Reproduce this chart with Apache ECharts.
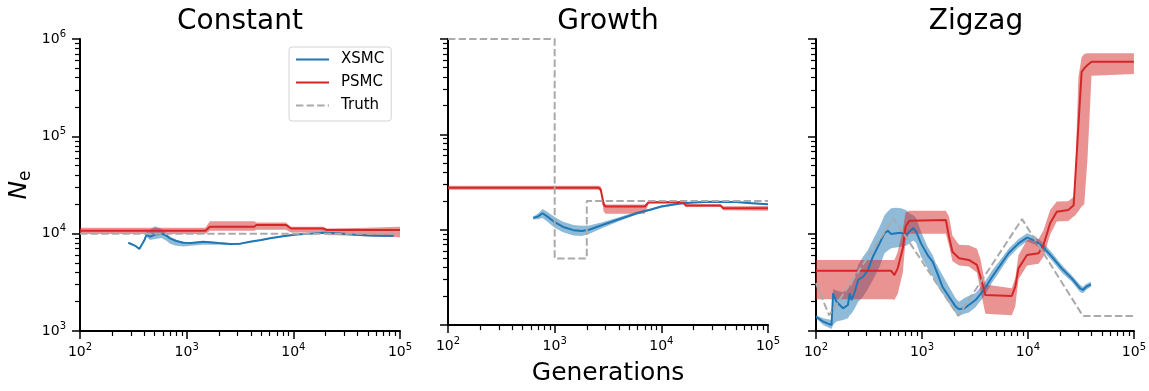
<!DOCTYPE html>
<html>
<head>
<meta charset="utf-8">
<script src="https://cdn.jsdelivr.net/npm/echarts@6/dist/echarts.min.js"></script>
<style>
  html, body { margin: 0; padding: 0; background: #fff; }
  #chart { width: 1149px; height: 391px; }
</style>
</head>
<body>
<div id="chart"></div>
<script>
// ---- Panel titles and axis ticks ----
const panelTitles = ['Constant', 'Growth', 'Zigzag'];
const xMajorTicks = [100, 1000, 10000, 100000];
const yMajorTicks = [1000, 10000, 100000, 1000000];

// ---- Constant scenario ----
const constTruthX = [100, 100000];
const constTruthN = [10000, 10000];

const constPsmcX  = [100, 1500, 1650, 4300, 4500, 8500, 9500, 19000, 20500, 50000, 100000];
const constPsmcN  = [10700, 10700, 11800, 11800, 12300, 12300, 11300, 11300, 10900, 10900, 10900];
const constPsmcLo = [9900, 9900, 10700, 10700, 11000, 11000, 10300, 10300, 9700, 9400, 9200];
const constPsmcHi = [11500, 11500, 13400, 13400, 13000, 13000, 11800, 11800, 11300, 11500, 11800];

const constXsmcX  = [284, 330, 360, 400, 421, 453, 505, 583, 650, 698, 800, 931, 1100, 1430, 2000, 2550, 3200, 3920, 5000, 6040, 8000, 10700, 14000, 19000, 26000, 36500, 50000, 70000, 87000];
const constXsmcN  = [8070, 7500, 6960, 8500, 9780, 9300, 9780, 10000, 9500, 8950, 8400, 8070, 8000, 8260, 8000, 7830, 7900, 8260, 8600, 8950, 9400, 9780, 10000, 10200, 10100, 9780, 9600, 9500, 9500];
const constXsmcLo = [8000, 7400, 6900, 8300, 9300, 8600, 8800, 9000, 8400, 7900, 7500, 7400, 7500, 7700, 7700, 7650, 7750, 8100, 8450, 8800, 9250, 9650, 9900, 10050, 9950, 9650, 9450, 9300, 9250];
const constXsmcHi = [8150, 7600, 7050, 8800, 10400, 11000, 11900, 11200, 10000, 9300, 8600, 8250, 8150, 8400, 8150, 7950, 8050, 8400, 8750, 9100, 9550, 9900, 10100, 10350, 10250, 9950, 9800, 9700, 9750];

// ---- Growth scenario ----
const growTruthX = [100, 1000, 1000, 2000, 2000, 100000];
const growTruthN = [1000000, 1000000, 5000, 5000, 20000, 20000];

const growPsmcX  = [100, 2570, 2700, 2880, 3000, 7000, 7600, 16000, 17000, 36000, 38000, 100000];
const growPsmcN  = [27600, 27600, 26500, 18500, 17500, 17500, 19400, 19400, 17900, 17900, 16800, 16800];
const growPsmcLo = [26300, 26300, 25000, 15500, 14700, 14700, 18700, 18800, 17300, 17300, 16000, 15800];
const growPsmcHi = [28900, 28900, 28500, 20000, 18400, 18400, 20000, 20000, 18500, 18500, 17600, 17700];

const growXsmcX  = [630, 700, 770, 850, 1000, 1200, 1500, 1800, 2100, 2800, 4000, 6000, 8000, 10000, 15000, 20000, 30000, 50000, 70000, 100000];
const growXsmcN  = [13300, 13800, 14900, 13800, 12000, 10700, 9900, 9700, 10000, 11200, 12900, 15000, 16300, 17500, 18800, 19300, 19700, 19500, 19000, 18500];
const growXsmcLo = [12800, 12900, 13300, 12200, 10500, 9400, 8700, 8600, 9000, 10400, 12300, 14500, 15900, 17100, 18400, 19000, 19400, 19200, 18700, 18200];
const growXsmcHi = [13800, 14800, 16500, 15400, 13600, 12100, 11200, 11000, 11100, 12000, 13500, 15500, 16700, 17900, 19200, 19600, 20000, 19800, 19300, 18800];

// ---- Zigzag scenario ----
const zigTruthX = [100, 133, 540, 2200, 8800, 33000, 100000];
const zigTruthN = [3100, 1450, 14300, 1430, 14100, 1430, 1430];

const zigPsmcX  = [100, 510, 550, 590, 660, 700, 760, 1680, 1800, 1940, 2240, 2770, 3300, 3560, 3970, 7040, 7600, 8140, 9800, 12600, 14000, 16200, 18700, 24000, 27000, 28000, 29900, 32100, 34000, 36500, 39800, 100000];
const zigPsmcN  = [4170, 4170, 3760, 4400, 7070, 11800, 13600, 13800, 9300, 6530, 5580, 5370, 4770, 3610, 2340, 2290, 2850, 4400, 6030, 6300, 7650, 12800, 16800, 17500, 19600, 20500, 126000, 460000, 500000, 540000, 585000, 585000];
const zigPsmcLo = [2120, 2120, 2100, 2400, 4000, 8500, 10000, 10000, 7500, 5200, 4700, 4600, 4000, 2600, 1500, 1450, 1800, 3400, 4700, 4900, 5800, 9800, 13300, 13500, 15000, 15500, 17000, 19000, 20000, 60000, 420000, 437000];
const zigPsmcHi = [5370, 5370, 5370, 6500, 11000, 16500, 17200, 17200, 15000, 9500, 7700, 7600, 7000, 5500, 3000, 2750, 3500, 6000, 8600, 8800, 10800, 17500, 21400, 21500, 24000, 40000, 400000, 650000, 700000, 713000, 713000, 713000];

const zigXsmcX  = [100, 117, 140, 145, 156, 180, 200, 208, 216, 232, 250, 278, 309, 344, 398, 443, 477, 512, 570, 635, 707, 760, 830, 880, 980, 1130, 1260, 1350, 1560, 1800, 2080, 2240, 2500, 2770, 3200, 3840, 4600, 5500, 6560, 8150, 9800, 11700, 14000, 16800, 20800, 25900, 31000, 33000, 35600, 39300];
const zigXsmcN  = [1400, 1250, 1150, 2440, 2000, 1710, 1850, 2440, 2080, 2530, 3340, 3610, 4230, 5800, 7950, 10100, 10700, 9900, 10100, 10200, 9690, 10500, 11400, 10500, 7950, 6030, 5150, 4300, 2850, 2250, 1780, 1670, 1710, 1850, 2080, 2640, 3610, 4770, 6290, 7950, 9100, 8470, 7240, 5800, 4400, 3470, 2750, 2640, 2850, 3020];
const zigXsmcLo = [1350, 1150, 1050, 1150, 1250, 1300, 1350, 1450, 1500, 1700, 2000, 2250, 2700, 3340, 4580, 6290, 6700, 7070, 7200, 7340, 7500, 7950, 8500, 8000, 5800, 4400, 3610, 3100, 2440, 1920, 1520, 1430, 1500, 1550, 1750, 2250, 3150, 4200, 5650, 7200, 8300, 7700, 6600, 5300, 4000, 3200, 2520, 2440, 2650, 2850];
const zigXsmcHi = [1450, 1350, 1300, 2700, 2600, 2500, 2700, 3000, 2900, 3600, 4800, 5800, 6800, 8600, 11800, 15500, 17000, 18200, 18500, 18200, 17500, 16200, 15500, 14500, 10500, 7340, 6030, 5000, 3760, 2850, 2170, 2000, 2170, 2300, 2450, 3100, 4200, 5400, 7000, 8800, 10100, 9400, 8000, 6400, 4800, 3750, 2980, 2850, 3050, 3200];

// ---- Styling ----
const FONT = 'DejaVu Sans';
const BLUE = '#1f77b4';
const RED = '#d62728';
const GRAY = '#aaaaaa';
const BLUE_BAND = 'rgba(31,119,180,0.5)';
const RED_BAND = 'rgba(214,39,40,0.5)';

const gridLefts = [80, 448, 816];
const GRID_TOP = 39, GRID_W = 320, GRID_H = 292;

function minorTicksBetween(majors) {
  const out = [];
  for (let i = 0; i < majors.length - 1; i++) {
    for (let k = 2; k <= 9; k++) out.push(majors[i] * k);
  }
  return out;
}
const xMinorTicks = minorTicksBetween(xMajorTicks);
const yMinorTicks = minorTicksBetween(yMajorTicks);

function powerLabel(v) {
  return '10{sup|' + Math.round(Math.log10(v)) + '}';
}
const labelRich = {
  sup: { fontSize: 10, lineHeight: 12, verticalAlign: 'top', fontFamily: FONT, color: '#000' }
};

function pairs(xs, ys) { return xs.map((x, i) => [x, ys[i]]); }

function lineSeries(name, g, xs, ys, color, dashed) {
  return {
    type: 'line', name: name, xAxisIndex: 2 * g, yAxisIndex: 2 * g,
    data: pairs(xs, ys), symbol: 'none', showSymbol: false, silent: true,
    clip: !dashed,
    lineStyle: { color: color, width: 2, type: dashed ? [7.4, 3.2] : 'solid' },
    itemStyle: { color: color }
  };
}

// Shaded interval drawn as one polygon through the cartesian scales
function bandSeries(name, g, xs, lo, hi, fill) {
  const data = xs.map((x, i) => [x, lo[i], hi[i]]);
  return {
    type: 'custom', name: name, xAxisIndex: 2 * g, yAxisIndex: 2 * g,
    silent: true, data: data,
    encode: { x: 0, y: [1, 2] },
    renderItem: function (params, api) {
      if (params.dataIndex !== 0) return;
      const upper = data.map(d => api.coord([d[0], d[2]]));
      const lower = data.map(d => api.coord([d[0], d[1]])).reverse();
      return {
        type: 'polygon',
        shape: { points: upper.concat(lower) },
        style: { fill: fill, stroke: null }
      };
    }
  };
}

const xAxes = [], yAxes = [];
gridLefts.forEach((_, g) => {
  xAxes.push({
    type: 'log', logBase: 10, gridIndex: g, min: 100, max: 100000, position: 'bottom',
    axisLine: { show: true, onZero: false, lineStyle: { color: '#000', width: 2 } },
    axisTick: { show: true, customValues: xMajorTicks, length: 8, lineStyle: { color: '#000', width: 1.5 } },
    axisLabel: {
      show: true, customValues: xMajorTicks, formatter: powerLabel, margin: 11,
      color: '#000', fontFamily: FONT, fontSize: 14, lineHeight: 20, rich: labelRich
    },
    splitLine: { show: false },
    name: g === 1 ? 'Generations' : '', nameLocation: 'middle', nameGap: 31,
    nameTextStyle: { fontFamily: FONT, fontSize: 25, color: '#000' }
  });
  xAxes.push({
    type: 'log', logBase: 10, gridIndex: g, min: 100, max: 100000, position: 'bottom',
    axisLine: { show: false },
    axisTick: { show: true, customValues: xMinorTicks, length: 5, lineStyle: { color: '#000', width: 1.2 } },
    axisLabel: { show: false },
    splitLine: { show: false }
  });
  yAxes.push({
    type: 'log', logBase: 10, gridIndex: g, min: 1000, max: 1000000, position: 'left',
    axisLine: { show: true, onZero: false, lineStyle: { color: '#000', width: 2 } },
    axisTick: { show: true, customValues: yMajorTicks, length: 8, lineStyle: { color: '#000', width: 1.5 } },
    axisLabel: {
      show: g === 0, customValues: yMajorTicks, formatter: powerLabel, margin: 14,
      color: '#000', fontFamily: FONT, fontSize: 14, lineHeight: 20, rich: labelRich
    },
    splitLine: { show: false },
    name: g === 0 ? '{n|N}{e|e}' : '', nameLocation: 'middle', nameGap: 46, nameRotate: 90,
    nameTextStyle: {
      rich: {
        n: { fontFamily: FONT, fontSize: 25, fontStyle: 'italic', color: '#000', lineHeight: 30 },
        e: { fontFamily: FONT, fontSize: 17, color: '#000', lineHeight: 16, verticalAlign: 'bottom' }
      }
    }
  });
  yAxes.push({
    type: 'log', logBase: 10, gridIndex: g, min: 1000, max: 1000000, position: 'left',
    axisLine: { show: false },
    axisTick: { show: true, customValues: yMinorTicks, length: 5, lineStyle: { color: '#000', width: 1.2 } },
    axisLabel: { show: false },
    splitLine: { show: false }
  });
});

const panels = [
  { truth: [constTruthX, constTruthN],
    psmc: [constPsmcX, constPsmcN, constPsmcLo, constPsmcHi],
    xsmc: [constXsmcX, constXsmcN, constXsmcLo, constXsmcHi] },
  { truth: [growTruthX, growTruthN],
    psmc: [growPsmcX, growPsmcN, growPsmcLo, growPsmcHi],
    xsmc: [growXsmcX, growXsmcN, growXsmcLo, growXsmcHi] },
  { truth: [zigTruthX, zigTruthN],
    psmc: [zigPsmcX, zigPsmcN, zigPsmcLo, zigPsmcHi],
    xsmc: [zigXsmcX, zigXsmcN, zigXsmcLo, zigXsmcHi] }
];

const series = [];
panels.forEach((p, g) => {
  series.push(bandSeries('XSMC band', g, p.xsmc[0], p.xsmc[2], p.xsmc[3], BLUE_BAND));
  series.push(lineSeries('XSMC', g, p.xsmc[0], p.xsmc[1], BLUE, false));
  series.push(bandSeries('PSMC band', g, p.psmc[0], p.psmc[2], p.psmc[3], RED_BAND));
  series.push(lineSeries('PSMC', g, p.psmc[0], p.psmc[1], RED, false));
  series.push(lineSeries('Truth', g, p.truth[0], p.truth[1], GRAY, true));
});

const option = {
  animation: false,
  backgroundColor: '#fff',
  textStyle: { fontFamily: FONT },
  title: panelTitles.map((t, g) => ({
    text: t, left: gridLefts[g] + GRID_W / 2, top: 7, textAlign: 'center', padding: 0,
    textStyle: { fontFamily: FONT, fontSize: 28, fontWeight: 'normal', color: '#000', lineHeight: 30 }
  })),
  grid: gridLefts.map(l => ({ left: l, top: GRID_TOP, width: GRID_W, height: GRID_H, containLabel: false })),
  xAxis: xAxes,
  yAxis: yAxes,
  legend: {
    data: ['XSMC', 'PSMC', 'Truth'], orient: 'vertical', left: 289, top: 47,
    itemWidth: 33, itemHeight: 14, itemGap: 8, padding: [5, 7, 8, 6],
    backgroundColor: '#fff', borderColor: '#d4d4d4', borderWidth: 1, borderRadius: 3,
    selectedMode: false,
    itemStyle: { opacity: 0 },
    formatter: name => '{t|' + name + '}',
    textStyle: {
      fontFamily: FONT, fontSize: 15, color: '#000',
      rich: { t: { fontFamily: FONT, fontSize: 15, color: '#000', padding: [0, 0, 0, 7] } }
    }
  },
  series: series
};

const chart = echarts.init(document.getElementById('chart'), null, { renderer: 'canvas' });
chart.setOption(option);
</script>
</body>
</html>
